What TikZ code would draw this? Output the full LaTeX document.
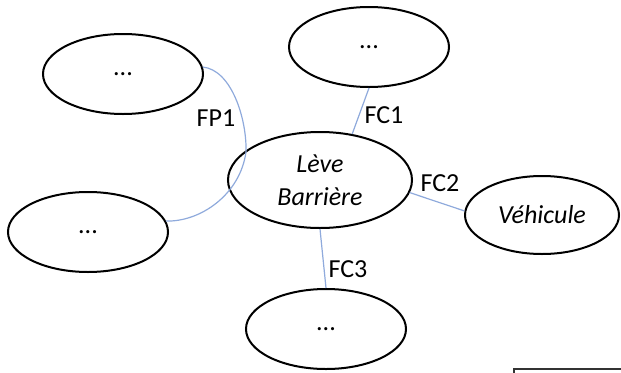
\documentclass[tikz,border=0pt]{standalone}
\usepackage{fontspec}
\setmainfont{Carlito}
\usepackage{tikz}
\usetikzlibrary{shapes.geometric,positioning}
\definecolor{lienbleu}{RGB}{143,170,220}

\begin{document}
\begin{tikzpicture}[x=0.75pt,y=-0.75pt,
    font=\fontsize{19.5}{25}\selectfont,
    bulle/.style={ellipse, draw, line width=1.5pt, inner sep=0pt, minimum width=120pt, minimum height=60pt},
    lien/.style={draw=lienbleu, line width=0.9pt},
    etiq/.style={inner sep=0pt}]
    \useasboundingbox (0,0) rectangle (621,372);
    % Elements
    \node [bulle] (hg) at (123,74) {...};
    \node [bulle] (haut) at (369,47) {...};
    \node [bulle] (g) at (88,232) {...};
    \node [bulle] (bas) at (326,329) {...};
    \node [bulle, minimum width=115.5pt, minimum height=58.5pt] (vehicule) at (542,215) {\itshape Véhicule};
    \node [bulle, minimum width=138pt, minimum height=72pt, align=center] (centre) at (320,180) {\itshape Lève\\\itshape Barrière};
    % Fonctions
    \draw [lien] (hg.5) .. controls (232,70) and (247,120) .. (246,152)
        .. controls (240,195) and (200,222) .. (g.8);
    \draw [lien] (haut.south) -- (centre.55);
    \draw [lien] (centre.-8) -- (vehicule.177);
    \draw [lien] (centre.south) -- (bas.north);
    \node [etiq] (fp1) at (216,118) {FP1};
    \node [etiq] (fc1) at (384,115) {FC1};
    \node [etiq] (fc2) at (440,183) {FC2};
    \node [etiq] (fc3) at (348,269) {FC3};
    % Cadre coupe en bas
    \draw [line width=1.5pt, black!80] (514,380) |- (640,369);
\end{tikzpicture}
\end{document}
